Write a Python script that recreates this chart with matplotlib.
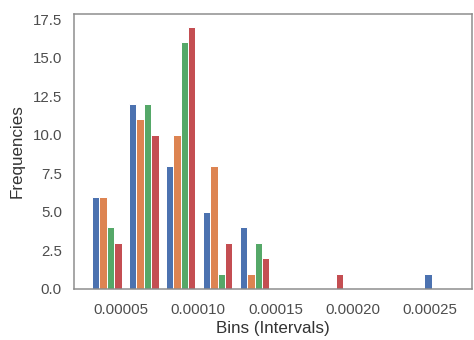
import numpy as np
import matplotlib.pyplot as plt
import seaborn as sns

sns.set_theme(style='white')
plt.rcParams['font.family'] = ['Liberation Sans', 'DejaVu Sans']

# bin range, 10 bins
x_min = 0.000029
x_max = 0.000268
n_bins = 10

counts_a = [6, 12, 8, 5, 4, 0, 0, 0, 0, 1]
counts_b = [6, 11, 10, 8, 1, 0, 0, 0, 0, 0]
counts_c = [4, 12, 16, 1, 3, 0, 0, 0, 0, 0]
counts_d = [3, 10, 17, 3, 2, 0, 1, 0, 0, 0]

edges = np.linspace(x_min, x_max, n_bins + 1)
centers = (edges[:-1] + edges[1:]) / 2

fig, ax = plt.subplots(figsize=(474 / 72, 340 / 72), dpi=72)
fig.subplots_adjust(left=0.156, right=0.996, top=0.959, bottom=0.15)

ax.hist([centers] * 4, bins=edges,
        weights=[counts_a, counts_b, counts_c, counts_d])
ax.set_xticks([0.00005, 0.00010, 0.00015, 0.00020, 0.00025])
ax.set_xticklabels(['0.00005', '0.00010', '0.00015', '0.00020', '0.00025'])
ax.set_yticks(np.arange(0, 17.6, 2.5))
ax.tick_params(labelsize=15, colors='0.3')
ax.tick_params(axis='x', pad=8)
ax.tick_params(axis='y', pad=6)
ax.set_xlabel('Bins (Intervals)', fontsize=17, color='0.2', labelpad=4)
ax.set_ylabel('Frequencies', fontsize=17, color='0.2', labelpad=8)
for s in ax.spines.values():
    s.set_color('0.55')
    s.set_linewidth(1.5)

fig.savefig('out.png', dpi=72)
